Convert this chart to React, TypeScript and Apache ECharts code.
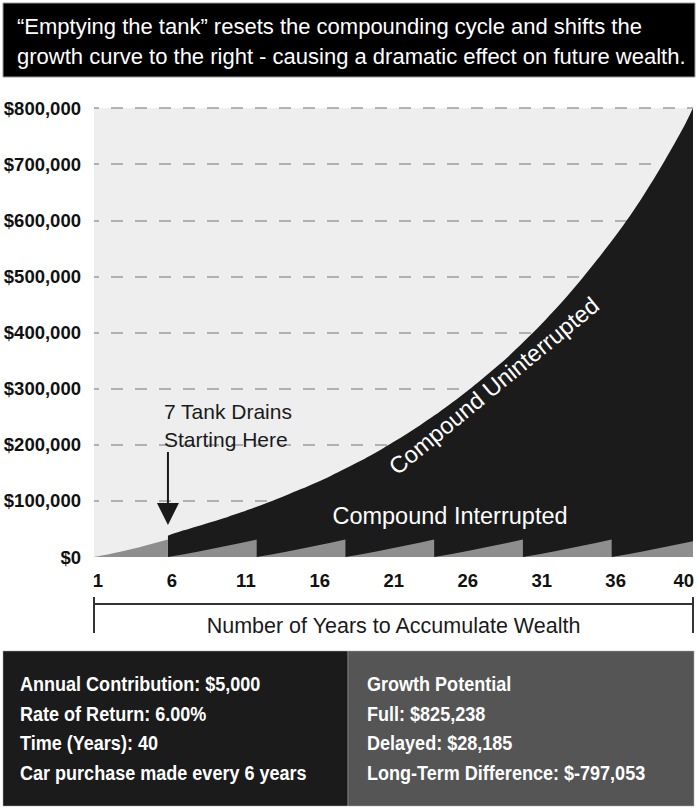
import React, { useEffect, useRef } from "react";
import * as echarts from "echarts";

// ---- data ----
const xTickYears = [1, 6, 11, 16, 21, 26, 31, 36, 40];
const lastYear = 40;
const yMax = 800000;
const yStep = 100000;

// "Compound Uninterrupted" – full growth curve (drawn from the first drain onwards)
const uninterruptedYears = [6, 7, 8, 9, 10, 11, 12, 13, 14, 15, 16, 17, 18, 19, 20, 21, 22, 23, 24, 25, 26, 27, 28, 29, 30, 31, 32, 33, 34, 35, 36, 37, 38, 39, 40, 41, 41.5];
const uninterruptedValues = [38000, 47000, 55000, 63000, 71000, 80000, 89500, 99500, 110000, 121000, 132500, 144500, 157500, 171000, 185500, 201000, 217000, 234000, 252000, 271000, 291000, 312000, 334000, 357000, 382000, 408000, 436000, 465000, 496000, 529000, 563000, 599000, 638000, 680000, 725000, 773000, 800000];

// "Compound Interrupted" – the tank is emptied every 6 years
const interruptedYears = [1, 2, 3, 4, 5, 6, 6, 7, 8, 9, 10, 11, 12, 12, 13, 14, 15, 16, 17, 18, 18, 19, 20, 21, 22, 23, 24, 24, 25, 26, 27, 28, 29, 30, 30, 31, 32, 33, 34, 35, 36, 36, 37, 38, 39, 40, 41, 41.5];
const interruptedValues = [0, 5000, 10500, 17000, 24000, 31000, 0, 4500, 9500, 14500, 20000, 25500, 31000, 0, 4500, 9500, 14500, 20000, 25500, 31000, 0, 4500, 9500, 14500, 20000, 25500, 31000, 0, 4500, 9500, 14500, 20000, 25500, 31000, 0, 4500, 9500, 14500, 20000, 25500, 31000, 0, 4500, 9500, 14500, 20000, 25500, 28000];

const drainStartYear = 6;

const titleLines = [
  "\u201CEmptying the tank\u201D resets the compounding cycle and shifts the",
  "growth curve to the right - causing a dramatic effect on future wealth.",
];
const annotationLines = ["7 Tank Drains", "Starting Here"];
const axisTitle = "Number of Years to Accumulate Wealth";
const inputLines = [
  "Annual Contribution: $5,000",
  "Rate of Return: 6.00%",
  "Time (Years): 40",
  "Car purchase made every 6 years",
];
const resultLines = [
  "Growth Potential",
  "Full: $825,238",
  "Delayed: $28,185",
  "Long-Term Difference: $-797,053",
];

const SANS = "'Liberation Sans', Arial, Helvetica, sans-serif";

export default function App() {
  const ref = useRef<HTMLDivElement>(null);

  useEffect(() => {
    if (!ref.current) return;
    const chart = echarts.init(ref.current, null, { renderer: "svg", width: 698, height: 809 });

    const labelFont = { fontFamily: SANS, fontWeight: "bold", fontSize: 18.5, color: "#111111" };

    const option: any = {
      animation: false,
      backgroundColor: "#ffffff",
      grid: {
        left: 94,
        right: 5,
        top: 108,
        bottom: 252,
        show: true,
        backgroundColor: "#eeeeee",
        borderWidth: 0,
      },
      xAxis: {
        type: "value",
        min: 1,
        max: 41.5,
        axisLine: { show: false },
        axisTick: { show: false },
        splitLine: { show: false },
        axisLabel: {
          customValues: xTickYears,
          ...labelFont,
          margin: 14,
          padding: [0, 0, 0, 8],
          formatter: (v: number) => (v === lastYear ? `{last|${v}}` : String(v)),
          rich: { last: { ...labelFont, padding: [0, 0, 0, 18] } },
        },
      },
      yAxis: {
        type: "value",
        min: 0,
        max: yMax,
        interval: yStep,
        axisLine: { show: false },
        axisTick: { show: false },
        splitLine: {
          show: true,
          showMinLine: false,
          lineStyle: { color: "#9d9d9d", width: 1.5, type: [12, 12], dashOffset: 7 },
        },
        axisLabel: {
          formatter: (v: number) => "$" + v.toLocaleString("en-US"),
          ...labelFont,
          margin: 13,
        },
      },
      series: [
        {
          name: "Compound Uninterrupted",
          type: "line",
          data: uninterruptedYears.map((y, i) => [y, uninterruptedValues[i]]),
          symbol: "none",
          smooth: 0.3,
          lineStyle: { width: 0, color: "#1b1b1b" },
          areaStyle: { color: "#1b1b1b", opacity: 1 },
          silent: true,
          z: 2,
        },
        {
          name: "Compound Interrupted",
          type: "line",
          data: interruptedYears.map((y, i) => [y, interruptedValues[i]]),
          symbol: "none",
          lineStyle: { width: 0, color: "#8e8e8e" },
          areaStyle: { color: "#8e8e8e", opacity: 1 },
          silent: true,
          z: 3,
        },
      ],
    };
    chart.setOption(option);

    const ax = chart.convertToPixel({ xAxisIndex: 0 }, drainStartYear) as number;
    const plotL = chart.convertToPixel({ xAxisIndex: 0 }, 1) as number;
    const plotR = chart.convertToPixel({ xAxisIndex: 0 }, 41.5) as number;
    const plotMidX = (plotL + plotR) / 2;

    const panelText = (t: string, x: number, i: number) => ({
      type: "text",
      x,
      y: 684 + i * 29.7,
      scaleX: 0.88,
      style: { text: t, fill: "#ffffff", font: `bold 20.5px ${SANS}`, verticalAlign: "middle", align: "left" },
      z: 11,
    });

    const graphic: any[] = [
      // title box
      { type: "rect", shape: { x: 3, y: 3, width: 692, height: 74 }, style: { fill: "#000000", stroke: "#9a9a9a", lineWidth: 1 }, z: 10 },
      ...titleLines.map((t, i) => ({
        type: "text",
        x: 17,
        y: 26 + i * 30,
        style: { text: t, fill: "#ffffff", font: `22px ${SANS}`, verticalAlign: "middle", align: "left" },
        z: 11,
      })),
      // annotation
      ...annotationLines.map((t, i) => ({
        type: "text",
        x: ax - 4,
        y: 411 + i * 28,
        style: { text: t, fill: "#1a1a1a", font: `21px ${SANS}`, verticalAlign: "middle", align: "left" },
        z: 11,
      })),
      { type: "line", shape: { x1: ax, y1: 452, x2: ax, y2: 506 }, style: { stroke: "#1a1a1a", lineWidth: 2 }, z: 11 },
      { type: "polygon", shape: { points: [[ax - 11, 503], [ax + 11, 503], [ax, 525]] }, style: { fill: "#1a1a1a" }, z: 11 },
      // series labels
      {
        type: "text",
        x: 494,
        y: 386,
        rotation: (39.5 * Math.PI) / 180,
        style: { text: "Compound Uninterrupted", fill: "#ffffff", font: `23.5px ${SANS}`, align: "center", verticalAlign: "middle" },
        z: 11,
      },
      {
        type: "text",
        x: 450,
        y: 516,
        style: { text: "Compound Interrupted", fill: "#ffffff", font: `23.5px ${SANS}`, align: "center", verticalAlign: "middle" },
        z: 11,
      },
      // axis bracket
      { type: "line", shape: { x1: plotL, y1: 604, x2: plotR, y2: 604 }, style: { stroke: "#333333", lineWidth: 2 }, z: 11 },
      { type: "line", shape: { x1: plotL, y1: 597, x2: plotL, y2: 633 }, style: { stroke: "#333333", lineWidth: 2 }, z: 11 },
      { type: "line", shape: { x1: plotR, y1: 597, x2: plotR, y2: 633 }, style: { stroke: "#333333", lineWidth: 2 }, z: 11 },
      {
        type: "text",
        x: plotMidX,
        y: 626,
        style: { text: axisTitle, fill: "#1a1a1a", font: `21.5px ${SANS}`, align: "center", verticalAlign: "middle" },
        z: 11,
      },
      // bottom panels
      { type: "rect", shape: { x: 3, y: 651, width: 345, height: 155 }, style: { fill: "#1b1b1b", stroke: "#aaaaaa", lineWidth: 0.5 }, z: 10 },
      { type: "rect", shape: { x: 348, y: 651, width: 346, height: 155 }, style: { fill: "#555555", stroke: "#aaaaaa", lineWidth: 0.5 }, z: 10 },
      ...inputLines.map((t, i) => panelText(t, 20, i)),
      ...resultLines.map((t, i) => panelText(t, 367, i)),
    ];
    chart.setOption({ graphic });

    return () => chart.dispose();
  }, []);

  return <div ref={ref} style={{ position: "absolute", left: 0, top: 0, width: 698, height: 809 }} />;
}
